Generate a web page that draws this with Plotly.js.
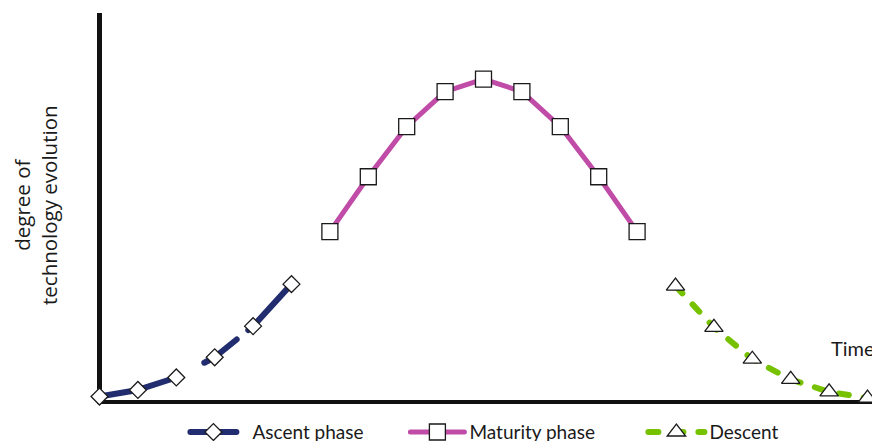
<!DOCTYPE html>
<html>
<head>
<meta charset="utf-8">
<script src="https://cdn.plot.ly/plotly-3.0.1.min.js"></script>
<style>
html,body{margin:0;padding:0;background:#fff;}
#chart{width:872px;height:441px;}
.js-line{stroke-linecap:round;stroke-linejoin:round;}
</style>
</head>
<body>
<div id="chart"></div>
<script>
// Data
const ascentX = [0, 1, 2, 3, 4, 5];
const ascentY = [1.4, 3.1, 6.3, 11.5, 19.5, 30.3];
const maturityX = [6, 7, 8, 9, 10, 11, 12, 13, 14];
const maturityY = [43.8, 57.9, 70.8, 79.8, 83.0, 79.8, 70.8, 57.9, 43.8];
const descentX = [15, 16, 17, 18, 19, 20];
const descentY = [29.8, 19.2, 11.0, 5.8, 2.6, 1.0];
const seriesNames = ['Ascent phase', 'Maturity phase', 'Descent'];
const yTitle = 'degree of<br>technology evolution';
const xTitle = 'Time';

const legendFont = {family: 'Lato, sans-serif', size: 19, color: '#1a1a1a'};
const markerLine = {color: '#1a1a1a', width: 1.3};

const traces = [
  {
    x: ascentX, y: ascentY, name: seriesNames[0], type: 'scatter', mode: 'lines+markers',
    cliponaxis: false, legend: 'legend',
    line: {color: '#212D6E', width: 6, dash: '80px,31px,40px,15px,300px'},
    marker: {symbol: 'diamond', size: 13, color: '#ffffff', line: markerLine}
  },
  {
    x: maturityX, y: maturityY, name: seriesNames[1], type: 'scatter', mode: 'lines+markers',
    cliponaxis: false, legend: 'legend2',
    line: {color: '#C04CA8', width: 5},
    marker: {symbol: 'square', size: 16, color: '#ffffff', line: markerLine}
  },
  {
    x: descentX, y: descentY, name: seriesNames[2], type: 'scatter', mode: 'lines+markers',
    cliponaxis: false, legend: 'legend3',
    line: {color: '#77C200', width: 6, dash: '10px,15px'},
    marker: {symbol: 'triangle-up', size: 16, color: '#ffffff', line: markerLine}
  }
];

function legendAt(px, w) {
  return {
    orientation: 'h', x: (px - 97) / 775, xanchor: 'left', y: -0.072, yanchor: 'middle',
    font: legendFont, itemwidth: w, bgcolor: 'rgba(0,0,0,0)'
  };
}

const layout = {
  width: 872, height: 441,
  margin: {l: 97, r: 0, t: 13, b: 37, autoexpand: false},
  paper_bgcolor: '#ffffff', plot_bgcolor: '#ffffff',
  showlegend: true,
  legend: legendAt(185.4, 46),
  legend2: legendAt(405.4, 54),
  legend3: legendAt(643.4, 56),
  xaxis: {
    range: [-0.0651, 20.117], showgrid: false, showticklabels: false, ticks: '',
    showline: false, zeroline: true, zerolinecolor: '#111111', zerolinewidth: 4.5,
    fixedrange: true
  },
  yaxis: {
    range: [-0.514, 100.0], showgrid: false, showticklabels: false, ticks: '',
    showline: false, zeroline: true, zerolinecolor: '#111111', zerolinewidth: 4.5,
    fixedrange: true
  },
  annotations: [
    {
      text: yTitle, xref: 'paper', yref: 'paper', x: (35 - 97) / 775, y: (404 - 205) / 391,
      xanchor: 'center', yanchor: 'middle', textangle: -90, showarrow: false,
      font: {family: 'Open Sans, sans-serif', size: 20.5, color: '#1a1a1a'}
    },
    {
      text: xTitle, xref: 'paper', yref: 'paper', x: (829 - 97) / 775, y: (404 - 348) / 391,
      xanchor: 'left', yanchor: 'middle', showarrow: false,
      font: {family: 'Lato, sans-serif', size: 20, color: '#1a1a1a'}
    }
  ]
};

Plotly.newPlot('chart', traces, layout, {displayModeBar: false, staticPlot: true}).then(function () {
  // gap between each legend symbol and its label, as in the reference
  const shifts = {legend: 11, legend2: 2, legend3: 2};
  Object.keys(shifts).forEach(function (id) {
    document.querySelectorAll('g.' + id + ' .scrollbox').forEach(function (g) {
      g.removeAttribute('clip-path');
    });
    document.querySelectorAll('g.' + id + ' .legendtext').forEach(function (t) {
      const x = parseFloat(t.getAttribute('x')) || 0;
      t.setAttribute('x', x + shifts[id]);
    });
  });
});
</script>
</body>
</html>
